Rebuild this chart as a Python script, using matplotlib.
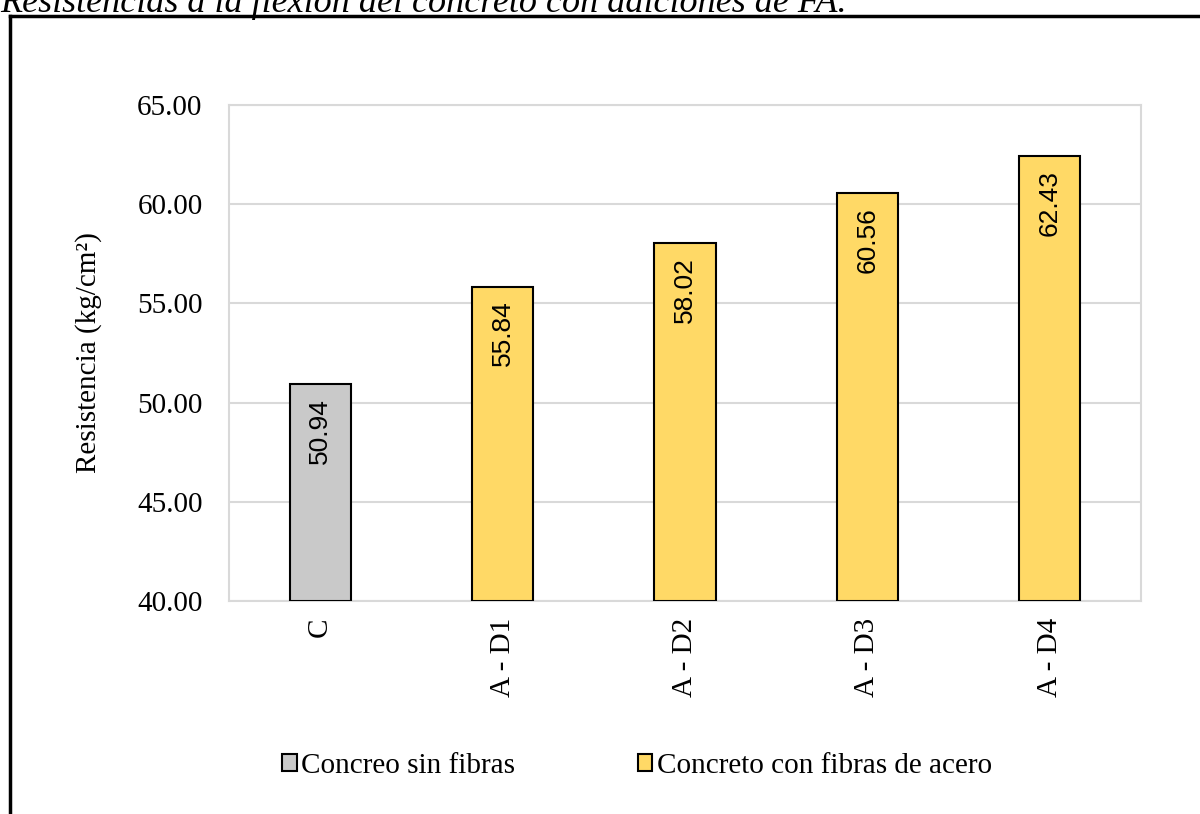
import matplotlib
matplotlib.use("Agg")
from matplotlib import pyplot as plt
from matplotlib.patches import Patch
from matplotlib.lines import Line2D

categorias = ["C", "A - D1", "A - D2", "A - D3", "A - D4"]
resistencias = [50.94, 55.84, 58.02, 60.56, 62.43]
grupos = ["Concreo sin fibras", "Concreto con fibras de acero", "Concreto con fibras de acero",
          "Concreto con fibras de acero", "Concreto con fibras de acero"]
colores_grupo = {"Concreo sin fibras": "#C9C9C9", "Concreto con fibras de acero": "#FFD966"}
yticks = [40, 45, 50, 55, 60, 65]
titulo = "Resistencias a la flexión del concreto con adiciones de FA."

serif = "Liberation Serif"
sans = "Liberation Sans"

fig = plt.figure(figsize=(12, 8.14), dpi=100)
ax = fig.add_axes([229/1200, 1 - 601/814, (1141 - 229)/1200, (601 - 105)/814])

x = list(range(len(categorias)))
colores = [colores_grupo[g] for g in grupos]
barras = ax.bar(x, [r - 40 for r in resistencias], bottom=40, width=0.335,
                color=colores, edgecolor="black", linewidth=1.5, zorder=3)

for xi, r in zip(x, resistencias):
    ax.annotate("%.2f" % r, (xi, r), xytext=(0, -10), textcoords="offset points",
                rotation=90, ha="center", va="top", fontsize=19, family=sans, zorder=4)

ax.set_xlim(-0.5, len(categorias) - 0.5)
ax.set_ylim(40, 65)
ax.set_yticks(yticks)
ax.set_yticklabels(["%.2f" % t for t in yticks], family=serif, fontsize=21)
ax.set_xticks(x)
ax.set_xticklabels(categorias, rotation=90, family=serif, fontsize=21)
ax.tick_params(length=0, pad=12)
ax.tick_params(axis="y", pad=19)
ax.yaxis.grid(True, color="#D9D9D9", linewidth=1.5, zorder=0)
for s in ax.spines.values():
    s.set_color("#D9D9D9")
    s.set_linewidth(1.5)
ax.set_ylabel("Resistencia (kg/cm²)", family=serif, fontsize=21, labelpad=25)

handles = [Patch(facecolor=colores_grupo[g], edgecolor="black", linewidth=1.5) for g in
           ["Concreo sin fibras", "Concreto con fibras de acero"]]
leg = fig.legend(handles, ["Concreo sin fibras", "Concreto con fibras de acero"],
                 loc="center", bbox_to_anchor=(637/1200, 1 - 766/814), ncol=2, frameon=False,
                 prop={"family": serif, "size": 21}, handlelength=0.5, handleheight=0.5,
                 handletextpad=0.15, columnspacing=4.2)

# marco exterior
fig.add_artist(Line2D([10/1200, 10/1200], [0, 1 - 16/814], color="black", linewidth=2.5,
                      transform=fig.transFigure))
fig.add_artist(Line2D([10/1200, 1], [1 - 16/814, 1 - 16/814], color="black", linewidth=2.5,
                      transform=fig.transFigure))

fig.text(0.0, 1 - 12/814, titulo, family=serif, style="italic", fontsize=26,
         ha="left", va="baseline")

fig.savefig("out.png", dpi=100, facecolor="white")
